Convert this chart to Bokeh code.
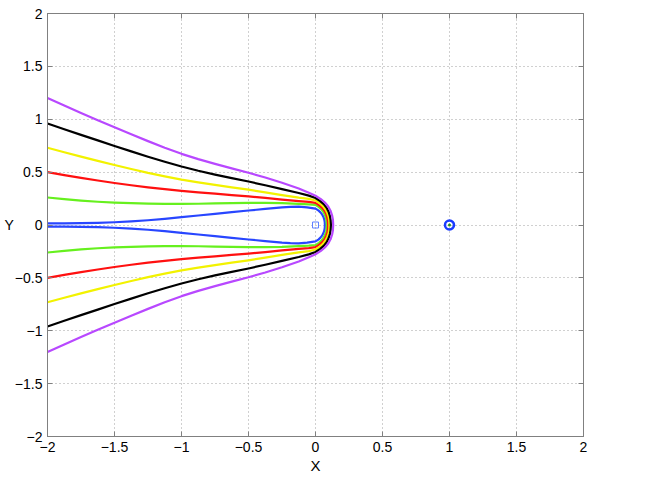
from bokeh.plotting import figure
from bokeh.models import Range1d, FixedTicker, LinearAxis
from bokeh.embed import file_html
from bokeh.resources import INLINE

# ---- data ----
tick_vals = [-2, -1.5, -1, -0.5, 0, 0.5, 1, 1.5, 2]
tick_labels = ["\u22122", "\u22121.5", "\u22121", "\u22120.5", "0", "0.5", "1", "1.5", "2"]

x_left = [-2, -1.875, -1.75, -1.625, -1.5, -1.375, -1.25, -1.125, -1,
          -0.875, -0.75, -0.625, -0.5, -0.375, -0.25, -0.125, -0.05, 0]

purple_x = x_left + [0.04, 0.07, 0.095, 0.112, 0.124, 0.130, 0.132]
purple_y = [1.200, 1.130, 1.060, 0.991, 0.924, 0.858, 0.793, 0.730, 0.673,
            0.623, 0.578, 0.535, 0.494, 0.449, 0.399, 0.345, 0.305, 0.276,
            0.245, 0.213, 0.175, 0.135, 0.090, 0.050, 0]

black_x = x_left + [0.035, 0.061, 0.083, 0.0975, 0.108, 0.113, 0.115]
black_y = [0.960, 0.906, 0.852, 0.800, 0.747, 0.696, 0.646, 0.598, 0.553,
           0.513, 0.477, 0.443, 0.411, 0.376, 0.339, 0.303, 0.278, 0.255,
           0.226, 0.197, 0.162, 0.125, 0.083, 0.046, 0]

yellow_x = x_left + [0.0315, 0.055, 0.075, 0.088, 0.098, 0.1025, 0.104]
yellow_y = [0.730, 0.688, 0.646, 0.606, 0.567, 0.530, 0.493, 0.460, 0.429,
            0.403, 0.379, 0.356, 0.334, 0.309, 0.283, 0.259, 0.247, 0.232,
            0.206, 0.179, 0.147, 0.113, 0.076, 0.042, 0]

red_x = x_left + [0.0285, 0.050, 0.068, 0.080, 0.088, 0.0926, 0.094]
red_y = [0.500, 0.472, 0.446, 0.421, 0.397, 0.376, 0.356, 0.339, 0.322,
         0.308, 0.296, 0.283, 0.271, 0.256, 0.240, 0.225, 0.218, 0.210,
         0.186, 0.162, 0.133, 0.103, 0.068, 0.038, 0]

green_x = x_left + [0.0255, 0.0445, 0.0605, 0.0712, 0.079, 0.0827, 0.084]
green_y = [0.260, 0.244, 0.231, 0.220, 0.212, 0.206, 0.202, 0.200, 0.200,
           0.201, 0.204, 0.207, 0.209, 0.209, 0.206, 0.199, 0.195, 0.190,
           0.169, 0.147, 0.120, 0.093, 0.062, 0.034, 0]

blue_x = [-2, -1.875, -1.75, -1.625, -1.5, -1.375, -1.25, -1.125, -1,
          -0.875, -0.75, -0.625, -0.5, -0.375, -0.25, -0.1875, -0.125, -0.0625, 0,
          0.0212, 0.0371, 0.0504, 0.0594, 0.0658, 0.069, 0.07]
blue_y = [0.015, 0.016, 0.018, 0.021, 0.026, 0.034, 0.045, 0.058, 0.074,
          0.090, 0.105, 0.121, 0.137, 0.152, 0.166, 0.171, 0.173, 0.167, 0.155,
          0.138, 0.120, 0.098, 0.076, 0.051, 0.028, 0]

square_pt = (0, 0)
circle_pt = (1, 0)

FONT = "Liberation Sans"

p = figure(width=640, height=476, output_backend="svg", toolbar_location=None,
           x_range=Range1d(-2, 2), y_range=Range1d(-2, 2),
           min_border_left=47, min_border_right=57, min_border_top=13, min_border_bottom=40)
p.background_fill_color = "white"
p.border_fill_color = "white"
p.outline_line_color = "#808080"

ticker = FixedTicker(ticks=tick_vals)
overrides = {v: l for v, l in zip(tick_vals, tick_labels)}
for ax in p.xaxis + p.yaxis:
    ax.ticker = ticker
    ax.major_label_overrides = overrides
    ax.major_label_text_font = FONT
    ax.major_label_text_font_size = "14px"
    ax.major_label_text_color = "black"
    ax.axis_line_color = "#808080"
    ax.major_tick_line_color = "#808080"
    ax.major_tick_in = 5
    ax.major_tick_out = 0
    ax.minor_tick_in = 0
    ax.minor_tick_out = 0
    ax.axis_label_text_font = FONT
    ax.axis_label_text_font_size = "15px"
    ax.axis_label_text_font_style = "normal"
    ax.axis_label_text_color = "black"
p.yaxis.major_label_standoff = 5
p.xaxis.major_label_standoff = 5
p.xaxis.axis_label = "X"
p.xaxis.axis_label_standoff = 2
p.yaxis.axis_label = "Y"
p.yaxis.axis_label_orientation = "horizontal"
p.yaxis.axis_label_standoff = -2
p.yaxis.axis_label_text_font_size = "14px"

for loc in ("right", "above"):
    ax = LinearAxis(ticker=ticker, major_label_text_font_size="1px", major_label_text_color=None,
                    major_label_standoff=0,
                    axis_line_color="#808080", major_tick_line_color="#808080",
                    major_tick_in=5, major_tick_out=0, minor_tick_in=0, minor_tick_out=0)
    p.add_layout(ax, loc)

for g in (p.xgrid, p.ygrid):
    g.ticker = ticker
    g.grid_line_color = "#a0a0a0"
    g.grid_line_dash = "1 3"
    g.grid_line_width = 1

def draw(xs, ys, color):
    fx = list(xs) + list(reversed(xs[:-1]))
    fy = list(ys) + [-v for v in reversed(ys[:-1])]
    p.line(fx, fy, line_color=color, line_width=2.2, line_join="round")

draw(blue_x, blue_y, "#2846ff")
draw(green_x, green_y, "#66f01e")
draw(red_x, red_y, "#ff1010")
draw(yellow_x, yellow_y, "#f2f200")
draw(black_x, black_y, "#000000")
draw(purple_x, purple_y, "#b848ff")

p.scatter([square_pt[0]], [square_pt[1]], marker="square", size=6,
          fill_color=None, line_color="#6080ff", line_width=1)
p.scatter([circle_pt[0]], [circle_pt[1]], marker="circle", size=9,
          fill_color=None, line_color="#1a3cff", line_width=2.5)
p.scatter([circle_pt[0]], [circle_pt[1]], marker="circle", size=3,
          fill_color="#209020", line_color=None)

open("out.html", "w").write(file_html(p, INLINE))
